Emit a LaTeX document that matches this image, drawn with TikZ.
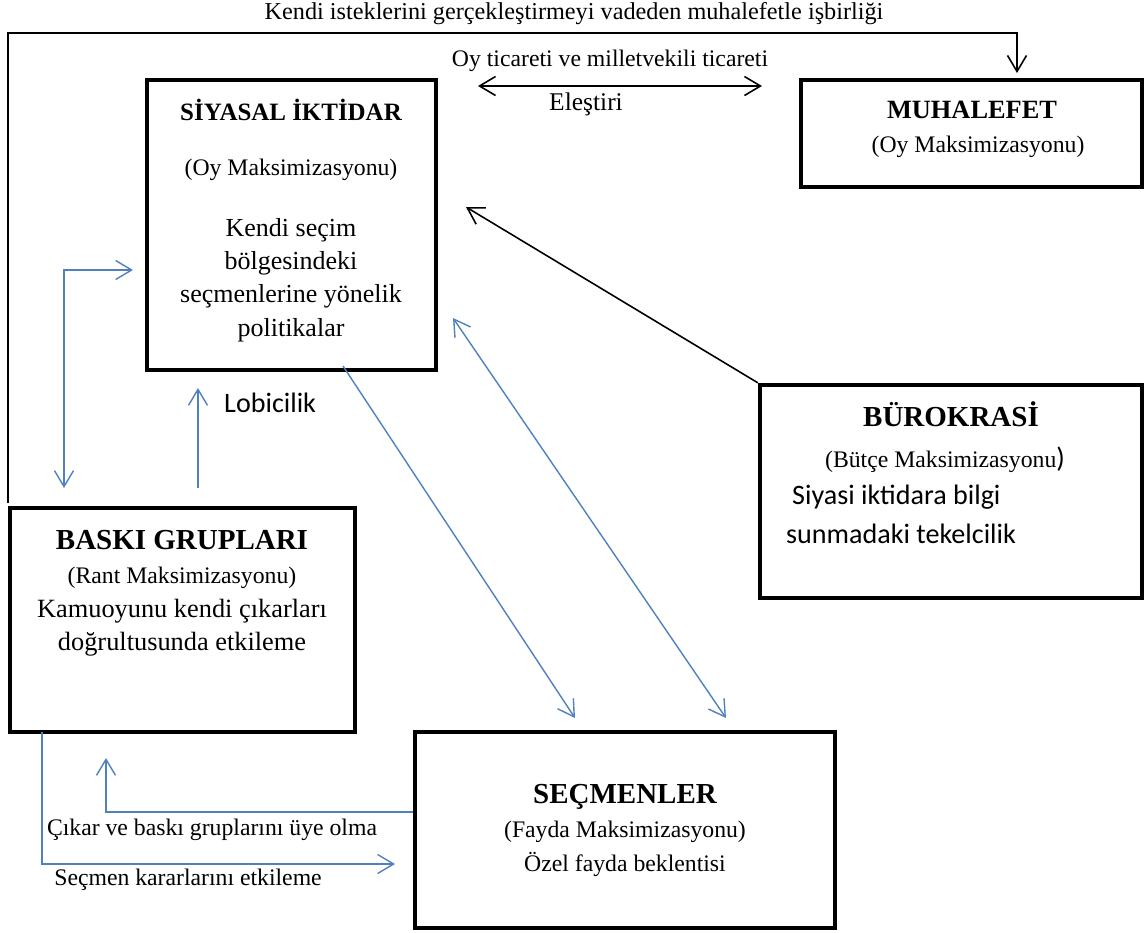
\documentclass[tikz,border=0pt]{standalone}
\usepackage{fontspec}
\setmainfont{Liberation Serif}
\newfontfamily\calibri{Carlito}
\usetikzlibrary{arrows.meta}
\definecolor{lineblue}{RGB}{79,129,189}

\begin{document}
\begin{tikzpicture}[x=0.02cm, y=-0.02cm,
  box/.style={draw, line width=2.5pt, inner sep=0pt},
  title/.style={font=\bfseries\fontsize{16.5}{19}\selectfont},
  txt/.style={font=\fontsize{13.5}{16}\selectfont, align=center},
  sans/.style={font=\calibri\fontsize{16}{19}\selectfont},
  blueline/.style={draw=lineblue, line width=0.8pt},
  blackline/.style={draw=black, line width=0.9pt},
  tipend/.style={-{Straight Barb[length=3.2mm,width=3.8mm]}},
  tipboth/.style={{Straight Barb[length=3.2mm,width=3.8mm]}-{Straight Barb[length=3.2mm,width=3.8mm]}}]
  \useasboundingbox (0,0) rectangle (1146,933);

  % boxes
  \node[box, minimum width=5.78cm, minimum height=5.8cm]  (siyasal)  at (291.5,225) {};
  \node[box, minimum width=6.82cm, minimum height=2.14cm] (muhalefet) at (971.5,133.5) {};
  \node[box, minimum width=7.64cm, minimum height=4.26cm] (buro)     at (951,491.5) {};
  \node[box, minimum width=6.9cm,  minimum height=4.48cm] (baski)    at (182.5,620) {};
  \node[box, minimum width=8.4cm,  minimum height=3.92cm] (secmen)   at (625,830) {};

  % box texts
  \node[title, font=\bfseries\fontsize{14.2}{17}\selectfont] (siyasalT) at (291,110) {SİYASAL İKTİDAR};
  \node[txt] (siyasalO) at (291,170) {(Oy Maksimizasyonu)};
  \node[txt, font=\fontsize{14.8}{19}\selectfont] (siyasalB) at (291,280)
    {Kendi seçim\\bölgesindeki\\seçmenlerine yönelik\\politikalar};

  \node[title, font=\bfseries\fontsize{15}{18}\selectfont] (muhalefetT) at (972,110) {MUHALEFET};
  \node[txt] (muhalefetO) at (978,147) {(Oy Maksimizasyonu)};

  \node[title] (buroT) at (951,414) {BÜROKRASİ};
  \node[txt] (buroO) at (945,460) {(Bütçe Maksimizasyonu{\calibri\fontsize{16}{19}\selectfont )}};
  \node[sans, anchor=west] (buroB1) at (786,497) {Siyasi iktidara bilgi};
  \node[sans, anchor=west] (buroB2) at (780,534) {sunmadaki tekelcilik};

  \node[title] (baskiT) at (182,540) {BASKI GRUPLARI};
  \node[txt] (baskiO) at (182,578) {(Rant Maksimizasyonu)};
  \node[txt, font=\fontsize{15}{19}\selectfont] (baskiB) at (182,628)
    {Kamuoyunu kendi çıkarları\\doğrultusunda etkileme};

  \node[title] (secmenT) at (625,797) {SEÇMENLER};
  \node[txt] (secmenO) at (625,832) {(Fayda Maksimizasyonu)};
  \node[txt] (secmenB) at (625,864) {Özel fayda beklentisi};

  % free ends
  \coordinate (muhTop) at (1017,73);
  \coordinate (oyL) at (478,86);
  \coordinate (oyR) at (762,86);
  \coordinate (buroTip) at (466,207);
  \coordinate (lobiS) at (198,488);
  \coordinate (lobiE) at (198,388);
  \coordinate (leftA) at (64,488);
  \coordinate (leftB) at (133,270);
  \coordinate (sdS) at (343,366);
  \coordinate (sdE) at (575,718);
  \coordinate (ddA) at (453,318);
  \coordinate (ddB) at (726,718);
  \coordinate (uyeE) at (106,758);
  \coordinate (etkS) at (42,732);
  \coordinate (etkE) at (395,864);

  % black connectors
  \draw[blackline, tipend] (baski.north west) ++(0,-3) |- (muhTop |- 0,33) -- (muhTop);
  \node[txt, font=\fontsize{13.8}{16}\selectfont] (isbirligi) at (574,14) {Kendi isteklerini gerçekleştirmeyi vadeden muhalefetle işbirliği};
  \draw[blackline, tipboth] (oyL) -- (oyR);
  \node[txt] (oyT) at (610,61) {Oy ticareti ve milletvekili ticareti};
  \node[txt, font=\fontsize{14.5}{17}\selectfont] (elestiri) at (586,104) {Eleştiri};
  \draw[blackline, tipend] (buro.north west) -- (buroTip);

  % blue connectors
  \draw[blueline, tipend] (lobiS) -- (lobiE);
  \node[sans, anchor=west] (lobi) at (218,403) {Lobicilik};
  \draw[blueline, tipboth] (leftA) |- (leftB);
  \draw[blueline, tipend] (sdS) -- (sdE);
  \draw[blueline, tipboth] (ddA) -- (ddB);
  \draw[blueline, tipend] (secmen.west |- 0,812) -| (uyeE);
  \node[txt] (uye) at (212,830) {Çıkar ve baskı gruplarını üye olma};
  \draw[blueline, tipend] (etkS) |- (etkE);
  \node[txt] (etk) at (188,880) {Seçmen kararlarını etkileme};
\end{tikzpicture}
\end{document}
